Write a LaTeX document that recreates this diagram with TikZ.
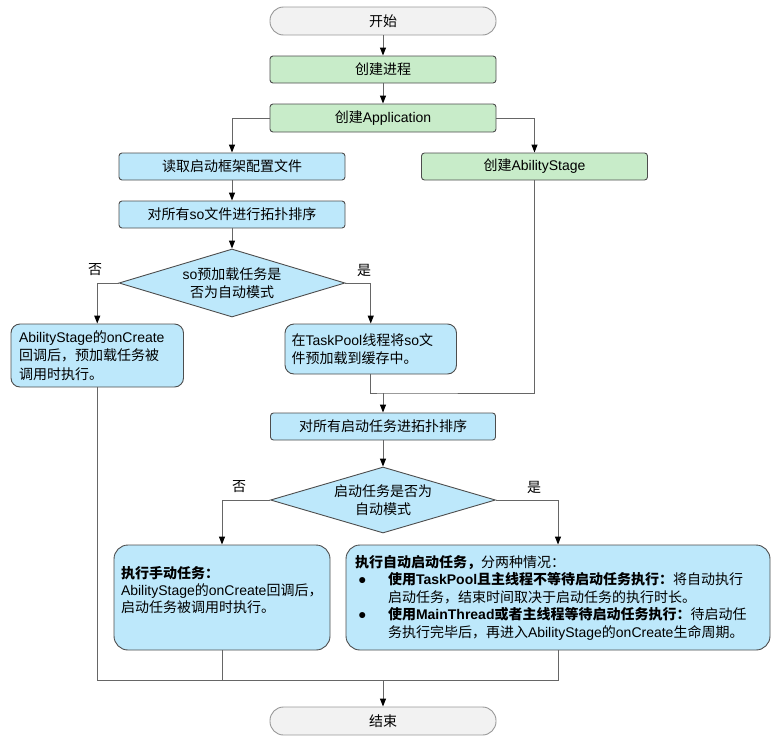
\documentclass[tikz,border=0pt]{standalone}
\usepackage{fontspec}
\setmainfont{Noto Sans CJK SC}
\newfontfamily\enf{Liberation Sans}
\newcommand\en[1]{{\enf #1}}
\usetikzlibrary{arrows.meta,shapes.geometric}
\definecolor{gfill}{HTML}{C8ECC9}
\definecolor{bfill}{HTML}{BDE8FB}
\definecolor{sfill}{HTML}{F2F2F2}
\definecolor{edgec}{HTML}{4D4D4D}
\definecolor{connc}{HTML}{666666}
\begin{document}
\begin{tikzpicture}[x=1pt,y=-1pt,
  font=\fontsize{14}{17.5}\selectfont,
  base/.style={draw=edgec, line width=0.9pt, inner sep=0pt, minimum width=226pt, minimum height=27pt, rounded corners=3pt},
  term/.style={base, draw=black!40, fill=sfill, rounded corners=13.5pt, minimum height=28pt},
  gbox/.style={base, fill=gfill},
  bbox/.style={base, fill=bfill},
  dec/.style={diamond, draw=edgec, line width=0.9pt, fill=bfill, inner sep=0pt, aspect=3.3, align=center},
  note/.style={draw=edgec, line width=0.9pt, fill=bfill, rounded corners=9pt, align=left, inner sep=0pt},
  conn/.style={draw=connc, line width=1pt},
  arr/.style={conn, -{Triangle[length=8pt,width=6pt,color=black]}},
  lbl/.style={inner sep=0pt}]
\useasboundingbox (0,0) rectangle (784,739);

\node[term] (start) at (383,21) {开始};
\node[gbox] (proc) at (383,69.5) {创建进程};
\node[gbox, minimum height=28pt] (app) at (383,118) {创建\en{Application}};
\node[bbox] (read) at (232,166.5) {读取启动框架配置文件};
\node[gbox] (ast) at (534.5,166.5) {创建\en{AbilityStage}};
\node[bbox] (sort1) at (232,214.5) {对所有\en{so}文件进行拓扑排序};
\node[dec, minimum width=226pt, minimum height=68pt] (dec1) at (232,283) {\en{so}预加载任务是\\否为自动模式};
\node[note, minimum width=172.5pt, minimum height=63pt, text width=156.5pt, font=\fontsize{14}{18.5}\selectfont] (lazy) at (97.25,355.5)
  {\en{AbilityStage}的\en{onCreate}\\回调后，预加载任务被\\调用时执行。};
\node[note, minimum width=171.5pt, minimum height=50pt, text width=158.5pt, font=\fontsize{14}{18}\selectfont] (pre) at (370.75,349)
  {在\en{TaskPool}线程将\en{so}文\\件预加载到缓存中。};
\node[bbox, minimum width=225pt] (sort2) at (383,426.5) {对所有启动任务进拓扑排序};
\node[dec, minimum width=225pt, minimum height=66pt] (dec2) at (383,500) {启动任务是否为\\自动模式};
\node[note, minimum width=216pt, minimum height=105pt, text width=202pt, rounded corners=14pt, font=\fontsize{14}{17}\selectfont] (man) at (222,597.5)
  {\textbf{执行手动任务：}\\\en{AbilityStage}的\en{onCreate}回调后，\\启动任务被调用时执行。\\\mbox{}};
\node[note, minimum width=424pt, minimum height=105pt, text width=406pt, rounded corners=14pt] (auto) at (558,597.5)
  {\textbf{执行自动启动任务，}分两种情况：\\
   \hspace*{3pt}\makebox[30pt][l]{\enf ●}\textbf{使用\en{TaskPool}且主线程不等待启动任务执行：}将自动执行\\
   \hspace*{33pt}启动任务，结束时间取决于启动任务的执行时长。\\
   \hspace*{3pt}\makebox[30pt][l]{\enf ●}\textbf{使用\en{MainThread}或者主线程等待启动任务执行：}待启动任\\
   \hspace*{33pt}务执行完毕后，再进入\en{AbilityStage}的\en{onCreate}生命周期。};
\node[term] (stop) at (383,721) {结束};

\node[lbl] (no1) at (95,270) {否};
\node[lbl] (yes1) at (364,270) {是};
\node[lbl] (no2) at (239,487) {否};
\node[lbl] (yes2) at (534,487) {是};

\draw[arr] (start) -- (proc);
\draw[arr] (proc) -- (app);
\draw[arr] (app.west) -| (read.north);
\draw[arr] (app.east) -| (ast.north);
\draw[arr] (read) -- (sort1);
\draw[arr] (sort1) -- (dec1);
\draw[arr] (dec1.west) -| (lazy.north);
\draw[arr] (dec1.east) -| (pre.north);
\coordinate (j1) at (383,393);
\draw[conn] (pre.south) |- (j1) -| (ast.south);
\draw[arr] (j1) -- (sort2.north);
\draw[arr] (sort2) -- (dec2);
\draw[arr] (dec2.west) -| (man.north);
\draw[arr] (dec2.east) -| (auto.north);
\coordinate (j2) at (383,680);
\draw[conn] (lazy.south) |- (j2);
\draw[conn] (man.south) |- (j2);
\draw[conn] (auto.south) |- (j2);
\draw[arr] (j2) -- (stop.north);
\end{tikzpicture}
\end{document}
